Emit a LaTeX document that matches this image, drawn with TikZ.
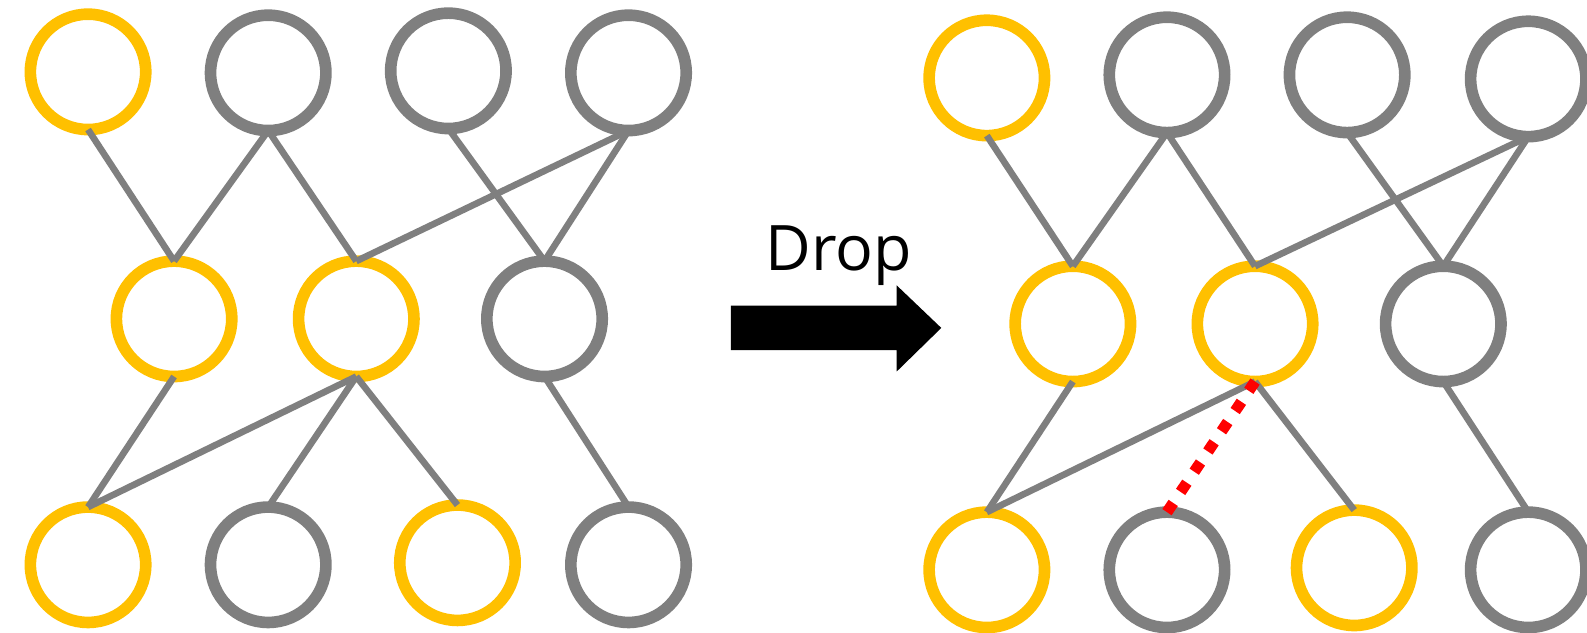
\documentclass[tikz,border=0pt]{standalone}
\usepackage{fontspec}
\setmainfont{Open Sans}
\definecolor{nodeyellow}{HTML}{FFC000}
\definecolor{nodegray}{HTML}{7F7F7F}
\definecolor{droppedred}{HTML}{FF0000}
\tikzset{
  unit/.style={circle, draw, line width=11.5pt, minimum size=114pt, inner sep=0pt, outer sep=0pt},
  kept/.style={unit, draw=nodeyellow},
  idle/.style={unit, draw=nodegray},
  link/.style={draw=nodegray, line width=6.5pt},
  cut/.style={draw=droppedred, line width=11pt, dash pattern=on 11pt off 13.1pt},
}
\begin{document}
\begin{tikzpicture}[x=1pt, y=-1pt]
\useasboundingbox (0,0) rectangle (1568,625);

% ---- full network ----
\node[kept] (a1) at (87,71)   {};
\node[idle] (a2) at (265,72)  {};
\node[idle] (a3) at (443,70)  {};
\node[idle] (a4) at (621,72)  {};
\node[kept] (b1) at (172,315) {};
\node[kept] (b2) at (352,315) {};
\node[idle] (b3) at (538,315) {};
\node[kept] (c1) at (87,558)  {};
\node[idle] (c2) at (265,558) {};
\node[kept] (c3) at (452,556) {};
\node[idle] (c4) at (621,558) {};

\draw[link] (a1.south) -- (b1.north);
\draw[link] (a2.south) -- (b1.north);
\draw[link] (a2.south) -- (b2.north);
\draw[link] (a3.south) -- (b3.north);
\draw[link] (a4.south) -- (b2.north);
\draw[link] (a4.south) -- (b3.north);
\draw[link] (b1.south) -- (c1.north);
\draw[link] (b2.south) -- (c1.north);
\draw[link] (b2.south) -- (c2.north);
\draw[link] (b2.south) -- (c3.north);
\draw[link] (b3.south) -- (c4.north);

% ---- arrow and label ----
\node[font=\fontsize{62}{70}\selectfont, inner sep=0pt, anchor=base] (lbl) at (829,267) {Drop};
\fill (722,302) -- (886,302) -- (886,282) -- (930,324) -- (886,367) -- (886,346) -- (722,346) -- cycle;

% ---- network after dropping a link ----
\node[kept] (p1) at (975,77)   {};
\node[idle] (p2) at (1153,74)  {};
\node[idle] (p3) at (1331,74)  {};
\node[idle] (p4) at (1510,78)  {};
\node[kept] (q1) at (1060,320) {};
\node[kept] (q2) at (1240,320) {};
\node[idle] (q3) at (1426,320) {};
\node[kept] (r1) at (975,563)  {};
\node[idle] (r2) at (1153,563) {};
\node[kept] (r3) at (1338,561) {};
\node[idle] (r4) at (1510,563) {};

\draw[link] (p1.south) -- (q1.north);
\draw[link] (p2.south) -- (q1.north);
\draw[link] (p2.south) -- (q2.north);
\draw[link] (p3.south) -- (q3.north);
\draw[link] (p4.south) -- (q2.north);
\draw[link] (p4.south) -- (q3.north);
\draw[link] (q1.south) -- (r1.north);
\draw[link] (q2.south) -- (r1.north);
\draw[link] (q2.south) -- (r3.north);
\draw[link] (q3.south) -- (r4.north);
\draw[cut]  (q2.south) -- (r2.north);
\end{tikzpicture}
\end{document}
